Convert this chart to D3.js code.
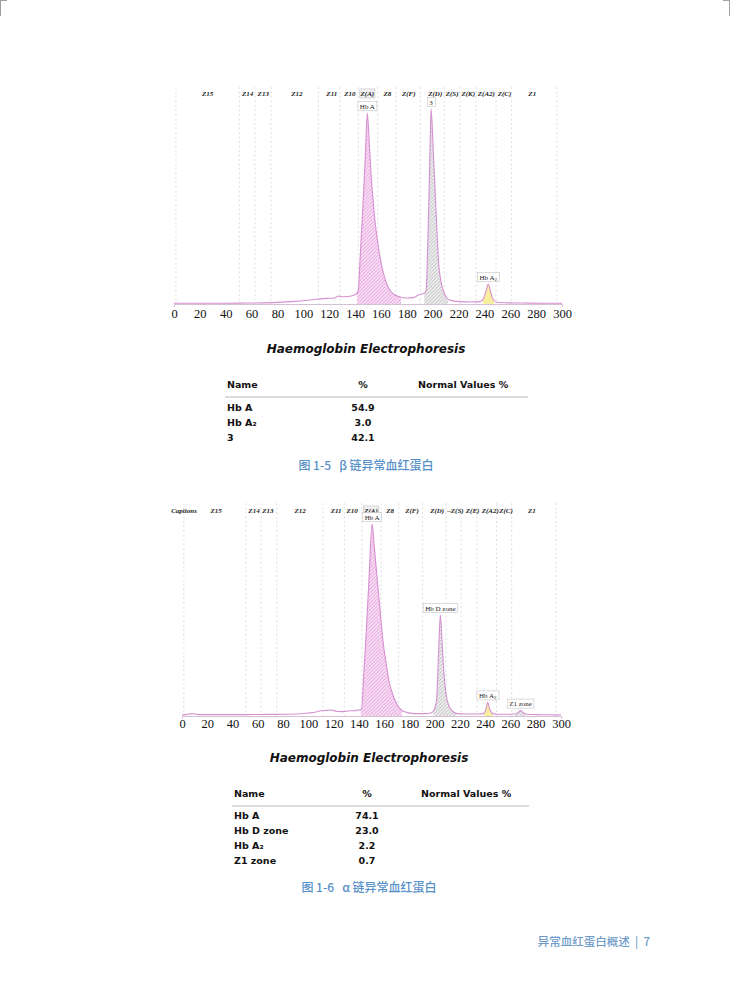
<!DOCTYPE html>
<html>
<head>
<meta charset="utf-8">
<script src="https://cdn.jsdelivr.net/npm/d3@7"></script>
<style>
	body { margin: 0; background: #fff; }
	svg { display: block; }
</style>
</head>
<body>
<svg></svg>
<script>
// shared x ticks and zone boundaries (migration units)
const xTicks = [0, 20, 40, 60, 80, 100, 120, 140, 160, 180, 200, 220, 240, 260, 280, 300];
const zoneEdges = [1.5, 50.5, 62.6, 75, 111.6, 128.5, 142.5, 157.5, 171.5, 190.5, 209, 221, 233.5, 249, 261, 296];

// Fig 1-5 (beta chain variant)
const betaZones = ['Z15', 'Z14', 'Z13', 'Z12', 'Z11', 'Z10', 'Z(A)', 'Z8', 'Z(F)', 'Z(D)', 'Z(S)', 'Z(K)', 'Z(A2)', 'Z(C)', 'Z1'];
const betaZonePos = [26, 57, 69, 95, 122, 136, 149.5, 165, 181.5, 202, 215, 227.5, 241.5, 255.5, 277];
const betaX = [0, 10, 20, 40, 60, 80, 90, 100, 110, 118, 124, 127, 129, 132, 137, 141, 142.5, 144, 146, 148, 149.5, 151, 152.5, 155, 158, 161, 164.5, 168, 171, 175, 180, 185, 189, 191.5, 194, 195, 196, 197, 198, 198.8, 200.5, 202, 203.5, 204.5, 206.5, 208.5, 211, 214, 220, 230, 237, 239.5, 241.5, 243, 244.5, 246.5, 249, 255, 270, 285, 300];
const betaY = [0.4, 0.4, 0.4, 0.4, 0.5, 0.8, 1.2, 1.6, 2.4, 2.8, 3, 4, 3.6, 3.6, 4, 5, 7, 24, 48, 75, 95.5, 80, 63.5, 44, 28.5, 18, 10, 6, 4.5, 3.5, 3, 3.2, 4.5, 5, 5.5, 7, 25, 50, 78, 97.5, 76, 55, 34, 21.5, 11, 6, 3, 1.8, 1.2, 1, 1.2, 3, 7, 10, 7, 2.5, 1, 0.6, 0.5, 0.4, 0.4];
const betaPeaks = ['Hb A', '3', 'Hb A|2'];
const betaPeakX = [149.5, 198.8, 243];
const betaPeakY = [95.5, 97.5, 10];
const betaFillFrom = [141.5, 193.5, 239];
const betaFillTo = [175.5, 212, 247.5];
const betaFillKind = ['pink', 'gray', 'yellow'];
const betaNames = ['Hb A', 'Hb A₂', '3'];
const betaPct = ['54.9', '3.0', '42.1'];

// Fig 1-6 (alpha chain variant)
const alphaZones = ['Captions', 'Z15', 'Z14', 'Z13', 'Z12', 'Z11', 'Z10', 'Z(A)', 'Z8', 'Z(F)', 'Z(D)', '–Z(S)', 'Z(E)', 'Z(A2)', 'Z(C)', 'Z1'];
const alphaZonePos = [1.6, 27, 57, 68, 93.5, 122, 134.6, 149.6, 164.7, 182, 202, 216.5, 230, 244, 256.5, 277];
const alphaX = [0, 4, 8, 12, 18, 30, 50, 70, 90, 100, 106, 110, 114, 118, 122, 126, 130, 134, 138, 142, 144, 146, 148, 150.5, 152, 154, 156.5, 159, 161.8, 164, 167, 170, 173.5, 178, 185, 192, 197, 199.5, 201.5, 203, 204.5, 206, 207.5, 209, 211, 214, 218, 225, 235, 238.5, 240.5, 242, 243.5, 246, 250, 258, 263.5, 266, 268, 270, 272.5, 280, 290, 300];
const alphaY = [0.5, 0.8, 1.2, 0.8, 0.7, 0.7, 0.7, 0.8, 1, 1.5, 2, 2.6, 2.8, 3, 2.4, 2.2, 2.4, 2.6, 2.8, 3.2, 22, 44, 68, 96, 86, 72, 55, 38, 25.5, 17, 10.5, 6, 3, 1.8, 1.2, 1.2, 1.5, 3, 8, 30, 50.5, 35, 20, 11, 5.5, 2.5, 1.2, 1, 1, 1.2, 3, 6.8, 3.5, 1.2, 0.9, 0.9, 1, 1.8, 2.7, 1.6, 0.9, 0.7, 0.6, 0.5];
const alphaPeaks = ['Hb A', 'Hb D zone', 'Hb A|2', 'Z1 zone'];
const alphaPeakX = [150.5, 204.5, 242, 268];
const alphaPeakY = [96, 50.5, 6.8, 2.7];
const alphaFillFrom = [141.5, 199, 239, 263.5];
const alphaFillTo = [174, 217, 246, 272];
const alphaFillKind = ['pink', 'gray', 'yellow', 'gray'];
const alphaNames = ['Hb A', 'Hb D zone', 'Hb A₂', 'Z1 zone'];
const alphaPct = ['74.1', '23.0', '2.2', '0.7'];

const svg = d3.select('svg').attr('width', 730).attr('height', 1001);
const defs = svg.append('defs');

// hatch patterns
const hatch = (id, bg, fg) => {
	let p = defs.append('pattern')
		.attr('id', id)
		.attr('patternUnits', 'userSpaceOnUse')
		.attr('width', 3.5)
		.attr('height', 3.5);
	p.append('rect').attr('width', 3.5).attr('height', 3.5).attr('fill', bg);
	p.append('path')
		.attr('d', 'M-1,1 l2,-2 M0,3.5 l3.5,-3.5 M2.5,4.5 l2,-2')
		.attr('stroke', fg)
		.attr('stroke-width', 0.7);
};
hatch('hPink', '#f8def4', '#dc84d1');
hatch('hGray', '#eeeeee', '#a6a6a6');
const fills = { pink: 'url(#hPink)', gray: 'url(#hGray)', yellow: '#f8ef9e' };

let clipN = 0;

drawTrace = (o) => {
	let x = d3.scaleLinear().domain([0, 300]).range(o.xr);
	let y = d3.scaleLinear().domain([0, 100]).range(o.yr);
	let data = o.xs.map((v, i) => ({ x: v, y: o.ys[i] }));
	let g = svg.append('g');

	// zone boundaries
	g.selectAll('.edge')
		.data(zoneEdges)
		.enter()
		.append('line')
		.attr('x1', (d) => x(d))
		.attr('x2', (d) => x(d))
		.attr('y1', o.edgeTop)
		.attr('y2', y(0))
		.attr('stroke', '#c8c8c8')
		.attr('stroke-width', 0.6)
		.attr('stroke-dasharray', '2,2.5');

	// zone names
	let zg = g.selectAll('.zone')
		.data(o.zones)
		.enter()
		.append('g')
		.attr('transform', (d, i) => 'translate(' + x(o.zonePos[i]) + ',' + o.zoneY + ')');
	zg.filter((d) => d === 'Z(A)')
		.append('rect')
		.attr('x', -7.5)
		.attr('y', -6.5)
		.attr('width', 15)
		.attr('height', 9)
		.attr('fill', '#f3f3f3')
		.attr('stroke', '#bdbdbd')
		.attr('stroke-width', 0.6);
	zg.append('text')
		.attr('text-anchor', 'middle')
		.attr('font-family', 'Liberation Serif')
		.attr('font-style', 'italic')
		.attr('font-weight', 'bold')
		.attr('font-size', 7)
		.attr('fill', '#222')
		.text((d) => d);

	let area = d3.area()
		.x((d) => x(d.x))
		.y0(y(0))
		.y1((d) => y(d.y))
		.curve(d3.curveMonotoneX);
	let line = d3.line()
		.x((d) => x(d.x))
		.y((d) => y(d.y))
		.curve(d3.curveMonotoneX);

	// peak fills
	o.from.forEach((f, i) => {
		let id = 'clip' + clipN++;
		defs.append('clipPath')
			.attr('id', id)
			.append('rect')
			.attr('x', x(f))
			.attr('width', x(o.to[i]) - x(f))
			.attr('y', 0)
			.attr('height', 1001);
		g.append('path')
			.datum(data)
			.attr('clip-path', 'url(#' + id + ')')
			.attr('fill', fills[o.kind[i]])
			.attr('d', area);
	});

	// axis
	let ax = g.append('g')
		.attr('transform', 'translate(0,' + y(0) + ')')
		.call(d3.axisBottom(x).tickValues(xTicks).tickSizeInner(0).tickSizeOuter(3).tickPadding(o.pad));
	ax.select('.domain').attr('stroke', '#c9b3c9').attr('stroke-width', 0.8);
	ax.selectAll('text')
		.attr('font-family', 'Liberation Serif')
		.attr('font-size', 12.5)
		.attr('fill', '#111');

	g.append('path')
		.datum(data)
		.attr('fill', 'none')
		.attr('stroke', '#d690d1')
		.attr('stroke-width', 1.1)
		.attr('stroke-linejoin', 'round')
		.attr('d', line);

	// peak labels
	o.peaks.forEach((p, i) => {
		let parts = p.split('|');
		let pg = g.append('g')
			.attr('transform', 'translate(' + x(o.peakX[i]) + ',' + (y(o.peakY[i]) - 7) + ')');
		let rect = pg.append('rect');
		let t = pg.append('text')
			.attr('text-anchor', 'middle')
			.attr('font-family', 'Liberation Serif')
			.attr('font-size', 7)
			.attr('fill', '#222')
			.attr('y', 2.5);
		t.append('tspan').text(parts[0]);
		if (parts[1]) t.append('tspan').attr('font-size', 5).attr('dy', 1.5).text(parts[1]);
		let b = t.node().getBBox();
		rect.attr('x', b.x - 2)
			.attr('y', -4.5)
			.attr('width', b.width + 4)
			.attr('height', 9)
			.attr('fill', '#fff')
			.attr('stroke', '#c4c4c4')
			.attr('stroke-width', 0.6);
	});
};

drawTable = (o) => {
	let g = svg.append('g').attr('font-family', 'DejaVu Sans').attr('fill', '#111');
	g.append('text')
		.attr('x', o.cx)
		.attr('y', o.titleY)
		.attr('text-anchor', 'middle')
		.attr('font-size', 12)
		.attr('font-weight', 'bold')
		.attr('font-style', 'italic')
		.text('Haemoglobin Electrophoresis');
	let head = g.append('g').attr('font-size', 9.5).attr('font-weight', 'bold');
	head.append('text').attr('x', o.x0).attr('y', o.headY).text('Name');
	head.append('text').attr('x', o.xPct).attr('y', o.headY).attr('text-anchor', 'middle').text('%');
	head.append('text').attr('x', o.xNorm).attr('y', o.headY).text('Normal Values %');
	g.append('line')
		.attr('x1', o.x0 - 2)
		.attr('x2', o.x1)
		.attr('y1', o.headY + 9)
		.attr('y2', o.headY + 9)
		.attr('stroke', '#cfcfcf')
		.attr('stroke-width', 1.5);
	let rows = g.selectAll('.row')
		.data(o.names)
		.enter()
		.append('g')
		.attr('font-size', 9.5)
		.attr('font-weight', 'bold')
		.attr('transform', (d, i) => 'translate(0,' + (o.rowY + i * 15) + ')');
	rows.append('text').attr('x', o.x0).text((d) => d);
	rows.append('text')
		.attr('x', o.xPct)
		.attr('text-anchor', 'middle')
		.text((d, i) => o.pct[i]);
	svg.append('text')
		.attr('x', o.cx)
		.attr('y', o.capY)
		.attr('text-anchor', 'middle')
		.attr('font-family', 'Noto Sans CJK SC')
		.attr('font-weight', 500)
		.attr('font-size', 12)
		.attr('fill', '#5790c8')
		.attr('xml:space', 'preserve')
		.text(o.caption);
};

drawTrace({
	xr: [174, 562], yr: [304, 104], edgeTop: 87, zoneY: 95.5, pad: 5,
	zones: betaZones, zonePos: betaZonePos, xs: betaX, ys: betaY,
	peaks: betaPeaks, peakX: betaPeakX, peakY: betaPeakY,
	from: betaFillFrom, to: betaFillTo, kind: betaFillKind
});
drawTable({
	cx: 366, titleY: 353, x0: 227, x1: 528, xPct: 363, xNorm: 418, headY: 388, rowY: 411,
	names: betaNames, pct: betaPct, capY: 470, caption: '图 1-5   β 链异常血红蛋白'
});

drawTrace({
	xr: [182, 561], yr: [716, 516], edgeTop: 503, zoneY: 512.5, pad: 3.5,
	zones: alphaZones, zonePos: alphaZonePos, xs: alphaX, ys: alphaY,
	peaks: alphaPeaks, peakX: alphaPeakX, peakY: alphaPeakY,
	from: alphaFillFrom, to: alphaFillTo, kind: alphaFillKind
});
drawTable({
	cx: 369, titleY: 762, x0: 234, x1: 529, xPct: 367, xNorm: 421, headY: 797, rowY: 819,
	names: alphaNames, pct: alphaPct, capY: 892, caption: '图 1-6   α 链异常血红蛋白'
});

// running footer
svg.append('text')
	.attr('x', 650)
	.attr('y', 946)
	.attr('text-anchor', 'end')
	.attr('font-family', 'Noto Sans CJK SC')
	.attr('font-weight', 500)
	.attr('font-size', 11.5)
	.attr('fill', '#6f9bc8')
	.attr('xml:space', 'preserve')
	.text('异常血红蛋白概述  |  7');

// crop marks
svg.append('path')
	.attr('d', 'M0,0.5 H7 M0.5,0 V16 M723,0.5 H730 M729.5,0 V16')
	.attr('stroke', '#a0a0a0')
	.attr('stroke-width', 1)
	.attr('fill', 'none');
</script>
</body>
</html>
